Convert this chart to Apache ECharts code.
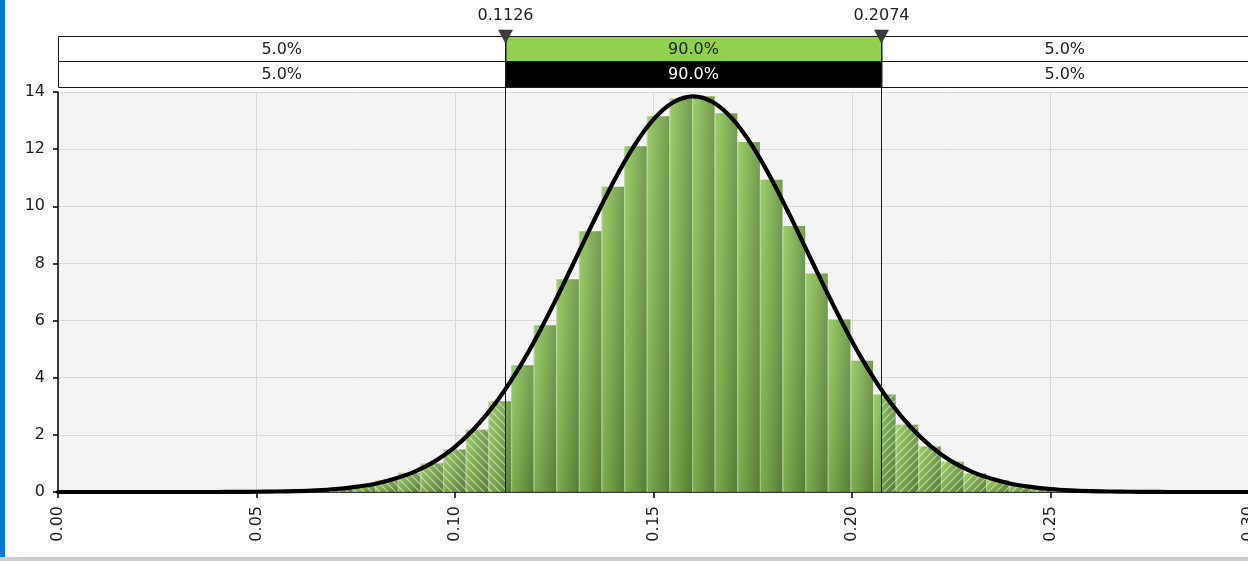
<!DOCTYPE html>
<html><head><meta charset="utf-8">
<script src="https://cdn.jsdelivr.net/npm/echarts@6/dist/echarts.min.js"></script>
<style>html,body{margin:0;padding:0;background:#fff;overflow:hidden}#c{width:1248px;height:561px}</style>
</head><body>
<div id="c"></div>
<script>
// ---- data ----
const binStarts = [0.0571,0.0628,0.0685,0.0742,0.0799,0.0856,0.0913,0.0970,0.1027,0.1084,0.1141,0.1198,0.1255,0.1312,0.1369,0.1426,0.1483,0.1540,0.1597,0.1654,0.1711,0.1768,0.1825,0.1882,0.1939,0.1996,0.2053,0.2110,0.2167,0.2224,0.2281,0.2338,0.2395,0.2452,0.2509,0.2566];
const binWidth = 0.0057;
const binHeights = [0.03,0.06,0.12,0.23,0.40,0.67,1.00,1.49,2.18,3.18,4.44,5.84,7.45,9.13,10.68,12.10,13.15,13.77,13.85,13.26,12.25,10.93,9.31,7.65,6.04,4.59,3.41,2.35,1.59,1.06,0.65,0.41,0.24,0.14,0.08,0.04];
const curveX = [0,0.01,0.02,0.03,0.04,0.045,0.05,0.055,0.06,0.065,0.07,0.075,0.08,0.085,0.09,0.095,0.10,0.105,0.11,0.115,0.12,0.125,0.13,0.135,0.14,0.145,0.15,0.155,0.16,0.165,0.17,0.175,0.18,0.185,0.19,0.195,0.20,0.205,0.21,0.215,0.22,0.225,0.23,0.235,0.24,0.245,0.25,0.255,0.26,0.265,0.27,0.275,0.28,0.29,0.30];
const curveY = [0,0,0,0,0,0.004,0.009,0.018,0.033,0.06,0.105,0.18,0.29,0.47,0.72,1.08,1.58,2.24,3.07,4.09,5.28,6.62,8.05,9.50,10.88,12.09,13.04,13.64,13.85,13.64,13.04,12.09,10.88,9.50,8.05,6.62,5.28,4.09,3.07,2.24,1.58,1.08,0.72,0.47,0.29,0.18,0.105,0.06,0.033,0.018,0.009,0.004,0,0,0];
const cutValues = [0.1126, 0.2074];
const cutLabels = ['0.1126', '0.2074'];
const row1Labels = ['5.0%', '90.0%', '5.0%'];
const row2Labels = ['5.0%', '90.0%', '5.0%'];
const xMin = 0, xMax = 0.30, xStep = 0.05;
const yMin = 0, yMax = 14, yStep = 2;

// ---- styling ----
const FONT = 'DejaVu Sans';
const FS = 16;
const lo = cutValues[0], hi = cutValues[1];

function hatch(dir) {
  const s = 8, c = document.createElement('canvas');
  c.width = s; c.height = s;
  const g = c.getContext('2d');
  g.strokeStyle = 'rgba(255,255,255,0.55)';
  g.lineWidth = 1.1;
  g.beginPath();
  if (dir < 0) { g.moveTo(-1, -1); g.lineTo(s + 1, s + 1); g.moveTo(-1, s - 1); g.lineTo(1, s + 1); g.moveTo(s - 1, -1); g.lineTo(s + 1, 1); }
  else { g.moveTo(-1, s + 1); g.lineTo(s + 1, -1); g.moveTo(-1, 1); g.lineTo(1, -1); g.moveTo(s - 1, s + 1); g.lineTo(s + 1, s - 1); }
  g.stroke();
  return c;
}
const hatchL = hatch(-1), hatchR = hatch(1);

const barData = binStarts.map((s, i) => [s, s + binWidth, binHeights[i]]);
const curveData = curveX.map((x, i) => [x, curveY[i]]);

const chart = echarts.init(document.getElementById('c'), null, {renderer: 'canvas'});
chart.setOption({
  animation: false,
  backgroundColor: '#ffffff',
  textStyle: {fontFamily: FONT},
  grid: {left: 58, top: 92, width: 1191, height: 400, show: true, backgroundColor: '#f4f4f4', borderWidth: 0, containLabel: false, outerBoundsMode: 'none'},
  graphic: [
    {type: 'rect', left: 0, top: 0, shape: {width: 5, height: 561}, style: {fill: '#0b79d0'}, z: 100},
    {type: 'rect', left: 0, top: 557, shape: {width: 1248, height: 4}, style: {fill: '#cdcdcd'}, z: 100}
  ],
  xAxis: {
    type: 'value', min: xMin, max: xMax, interval: xStep,
    axisLine: {show: true, onZero: false, lineStyle: {color: '#000', width: 1.5}},
    axisTick: {show: true, length: 6, lineStyle: {color: '#000', width: 1.5}},
    axisLabel: {rotate: 90, margin: 14, color: '#222', fontSize: FS, fontFamily: FONT, formatter: v => v.toFixed(2)},
    splitLine: {show: true, lineStyle: {color: '#d9d9d9', width: 1}}
  },
  yAxis: {
    type: 'value', min: yMin, max: yMax, interval: yStep,
    axisLine: {show: true, lineStyle: {color: '#000', width: 1.5}},
    axisTick: {show: true, length: 5, lineStyle: {color: '#000', width: 1.5}},
    axisLabel: {margin: 13, color: '#222', fontSize: FS, fontFamily: FONT},
    splitLine: {show: true, lineStyle: {color: '#d9d9d9', width: 1}}
  },
  series: [
    {
      type: 'custom', name: 'histogram', z: 2, clip: true,
      encode: {x: [0, 1], y: 2},
      data: barData,
      renderItem(params, api) {
        const x0 = api.value(0), x1 = api.value(1), h = api.value(2);
        const pTL = api.coord([x0, h]), pBR = api.coord([x1, 0]);
        const X0 = pTL[0], X1 = pBR[0], Y0 = pTL[1], Y1 = pBR[1];
        const w = X1 - X0, ht = Y1 - Y0;
        const children = [
          {type: 'rect', shape: {x: X0, y: Y0, width: w, height: ht},
           style: {fill: new echarts.graphic.LinearGradient(0, 0, 1, 0, [
             {offset: 0, color: 'rgba(138,196,80,0.93)'},
             {offset: 0.25, color: 'rgba(126,184,70,0.93)'},
             {offset: 1, color: 'rgba(90,136,50,0.93)'}])}},
          {type: 'rect', shape: {x: X0, y: Y0, width: w, height: ht},
           style: {fill: new echarts.graphic.LinearGradient(0, 0, 0, 1, [
             {offset: 0, color: 'rgba(255,255,255,0.10)'},
             {offset: 1, color: 'rgba(0,0,0,0.14)'}])}}
        ];
        const pLo = api.coord([lo, 0])[0], pHi = api.coord([hi, 0])[0];
        if (X0 < pLo) {
          const e = Math.min(X1, pLo);
          children.push({type: 'rect', shape: {x: X0, y: Y0, width: e - X0, height: ht}, style: {fill: {image: hatchL, repeat: 'repeat'}}});
        }
        if (X1 > pHi) {
          const s = Math.max(X0, pHi);
          children.push({type: 'rect', shape: {x: s, y: Y0, width: X1 - s, height: ht}, style: {fill: {image: hatchR, repeat: 'repeat'}}});
        }
        children.push({type: 'rect', shape: {x: X0, y: Y0, width: 1.2, height: ht}, style: {fill: 'rgba(255,255,255,0.28)'}});
        return {type: 'group', children};
      }
    },
    {
      type: 'line', name: 'fit', z: 5, data: curveData, smooth: 0.3, showSymbol: false,
      lineStyle: {color: '#000', width: 4.2, cap: 'round', join: 'round'}
    },
    {
      type: 'custom', name: 'delimiters', z: 10, clip: false,
      data: [[lo, hi]],
      encode: {x: [0, 1]},
      renderItem(params, api) {
        const cs = params.coordSys;
        const top = cs.y, bottom = cs.y + cs.height;
        const L = cs.x, R = cs.x + cs.width + 20;
        const a = Math.round(api.coord([api.value(0), 0])[0]) + 0.5;
        const b = Math.round(api.coord([api.value(1), 0])[0]) + 0.5;
        const r1 = top - 56, r2 = top - 31, r3 = top - 5;
        const segs = [[L, a], [a, b], [b, R]];
        const fills1 = ['#ffffff', '#92d050', '#ffffff'];
        const fills2 = ['#ffffff', '#000000', '#ffffff'];
        const txt2 = ['#222', '#ffffff', '#222'];
        const font = FS + 'px "' + FONT + '"';
        const ch = [];
        segs.forEach((sg, i) => {
          ch.push({type: 'rect', shape: {x: sg[0] + 0.5, y: r1 + 0.5, width: sg[1] - sg[0], height: r2 - r1}, style: {fill: fills1[i], stroke: '#1a1a1a', lineWidth: 1}});
          ch.push({type: 'rect', shape: {x: sg[0] + 0.5, y: r2 + 0.5, width: sg[1] - sg[0], height: r3 - r2}, style: {fill: fills2[i], stroke: '#1a1a1a', lineWidth: 1}});
          const cx = (sg[0] + Math.min(sg[1], 1248)) / 2;
          ch.push({type: 'text', style: {text: row1Labels[i], x: cx, y: (r1 + r2) / 2 + 1, align: 'center', verticalAlign: 'middle', fill: '#222', font}});
          ch.push({type: 'text', style: {text: row2Labels[i], x: cx, y: (r2 + r3) / 2 + 1, align: 'center', verticalAlign: 'middle', fill: txt2[i], font}});
        });
        [a, b].forEach((x, i) => {
          ch.push({type: 'line', shape: {x1: x, y1: r1, x2: x, y2: bottom}, style: {stroke: '#1a1a1a', lineWidth: 1}});
          ch.push({type: 'polygon', shape: {points: [[x - 7, top - 62], [x + 7, top - 62], [x, top - 49]]}, style: {fill: '#3c3c3c', stroke: '#222', lineWidth: 0.5}});
          ch.push({type: 'text', style: {text: cutLabels[i], x: x, y: top - 76, align: 'center', verticalAlign: 'middle', fill: '#222', font}});
        });
        return {type: 'group', children: ch};
      }
    }
  ]
});
</script>
</body></html>
